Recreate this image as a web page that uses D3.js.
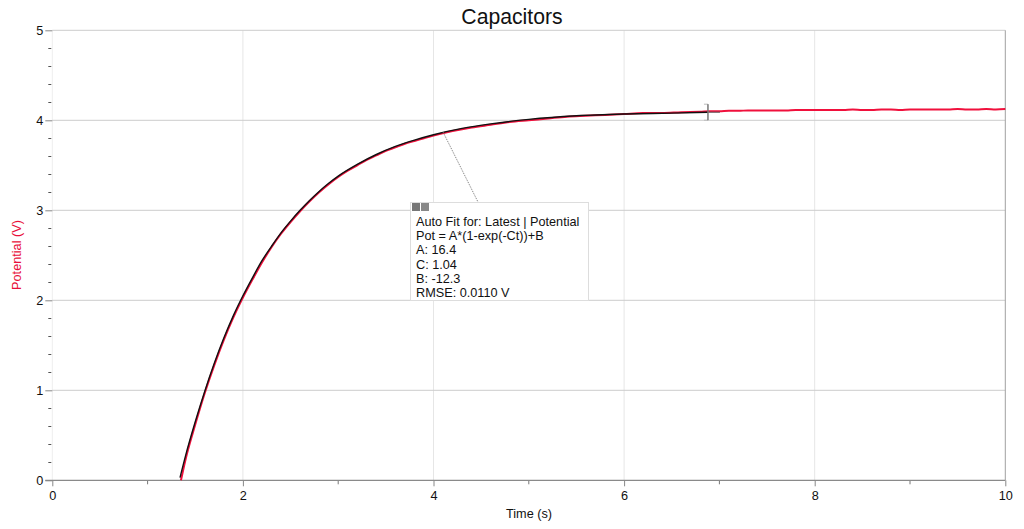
<!DOCTYPE html>
<html><head><meta charset="utf-8">
<script src="https://cdn.jsdelivr.net/npm/d3@7"></script>
<style>body{margin:0;background:#fff}svg{display:block;font-family:"Liberation Sans",Arial,sans-serif}</style>
</head><body><svg id="c" width="1024" height="529"></svg>
<script>
// Measured data (red)
const dataT = [1.35,1.4,1.5,1.6,1.7,1.8,1.9,2.0,2.1,2.2,2.3,2.4,2.5,2.6,2.7,2.8,2.9,3.0,3.1,3.2,3.3,3.4,3.5,3.6,3.7,3.8,3.9,4.0,4.2,4.4,4.6,4.8,5.0,5.2,5.4,5.6,5.8,6.0,6.2,6.4,6.6,6.8,6.9,7.0,7.1,7.2,7.3,7.4,7.5,7.6,7.7,7.8,7.9,8.0,8.1,8.2,8.3,8.4,8.5,8.6,8.7,8.8,8.9,9.0,9.1,9.2,9.3,9.4,9.5,9.6,9.7,9.8,9.9,10.0];
const dataV = [0.0,0.24,0.62,0.97,1.28,1.56,1.81,2.03,2.23,2.42,2.59,2.74,2.87,2.99,3.10,3.20,3.29,3.37,3.44,3.50,3.56,3.61,3.66,3.70,3.74,3.77,3.80,3.83,3.88,3.92,3.95,3.98,4.00,4.02,4.04,4.05,4.06,4.07,4.08,4.08,4.09,4.095,4.10,4.10,4.105,4.105,4.11,4.11,4.11,4.11,4.11,4.115,4.115,4.115,4.115,4.115,4.115,4.12,4.115,4.115,4.12,4.12,4.115,4.12,4.12,4.12,4.12,4.12,4.125,4.12,4.12,4.125,4.12,4.125];
// Fit curve (black)
const fitT = [1.34,1.4,1.5,1.6,1.7,1.8,1.9,2.0,2.1,2.2,2.3,2.4,2.5,2.6,2.7,2.8,2.9,3.0,3.2,3.4,3.6,3.8,4.0,4.3,4.6,5.0,5.5,6.0,6.5,6.88];
const fitV = [0.03,0.28,0.65,0.99,1.30,1.58,1.83,2.05,2.25,2.44,2.60,2.75,2.88,3.00,3.11,3.21,3.30,3.38,3.51,3.62,3.71,3.78,3.84,3.91,3.96,4.01,4.05,4.07,4.08,4.09];
const xTicks = [0,2,4,6,8,10];
const xMinor = [1,3,5,7,9];
const yTicks = [0,1,2,3,4,5];
const annoLines = ["Auto Fit for: Latest | Potential","Pot = A*(1-exp(-Ct))+B","A: 16.4","C: 1.04","B: -12.3","RMSE: 0.0110 V"];

const svg = d3.select("#c");
const L=52.3,R=1005.3,T=30.3,B=480.3;
const FS=12.7;
const x = d3.scaleLinear().domain([0,10]).range([L,R]);
const y = d3.scaleLinear().domain([0,5]).range([B,T]);

// grid
svg.append("g").selectAll("line").data(xTicks.filter(d=>d>0&&d<10)).join("line")
  .attr("x1",d=>x(d)).attr("x2",d=>x(d)).attr("y1",T).attr("y2",B)
  .attr("stroke","#e6e6e6").attr("stroke-width",1);
svg.append("line").attr("x1",L).attr("x2",L).attr("y1",T).attr("y2",B).attr("stroke","#eeeeee");
svg.append("g").selectAll("line").data(yTicks.filter(d=>d>0)).join("line")
  .attr("x1",L).attr("x2",R).attr("y1",d=>y(d)).attr("y2",d=>y(d))
  .attr("stroke","#cccccc").attr("stroke-width",1);
// right border
svg.append("line").attr("x1",R).attr("x2",R).attr("y1",T).attr("y2",B).attr("stroke","#a0a0a0");

// x axis
const xAx = svg.append("g").attr("transform",`translate(0,${B})`)
  .call(d3.axisBottom(x).tickValues(xTicks).tickSize(6).tickPadding(5).tickFormat(d3.format("d")));
xAx.select(".domain").remove();
xAx.selectAll("line").attr("stroke","#888");
xAx.selectAll("text").attr("font-size",FS).attr("fill","#111").attr("font-family","Liberation Sans, Arial, sans-serif");
svg.append("g").selectAll("line").data(xMinor).join("line")
  .attr("x1",d=>x(d)).attr("x2",d=>x(d)).attr("y1",B).attr("y2",B+4).attr("stroke","#777");
svg.append("line").attr("x1",L-7).attr("x2",R).attr("y1",B).attr("y2",B).attr("stroke","#8a8a8a").attr("stroke-width",1.2);

// y axis
const yAx = svg.append("g").attr("transform",`translate(${L},0)`)
  .call(d3.axisLeft(y).tickValues(yTicks).tickSize(7).tickPadding(2).tickFormat(d3.format("d")));
yAx.select(".domain").remove();
yAx.selectAll("line").attr("stroke","#888");
yAx.selectAll("text").attr("font-size",FS).attr("fill","#111").attr("font-family","Liberation Sans, Arial, sans-serif");
const yMinor = d3.range(0,5,0.2).filter(v=>Math.abs(v-Math.round(v))>0.01);
svg.append("g").selectAll("line").data(yMinor).join("line")
  .attr("x1",L-4).attr("x2",L-1).attr("y1",d=>Math.round(y(d))+0.5).attr("y2",d=>Math.round(y(d))+0.5).attr("stroke","#555");

// data line
const pts = dataT.map((t,i)=>[t,dataV[i]]);
const line = d3.line().x(d=>x(d[0])).y(d=>y(d[1])).curve(d3.curveMonotoneX);
svg.append("path").attr("d",line(pts)).attr("fill","none").attr("stroke","#f0103c").attr("stroke-width",2);
// fit line
const fpts = fitT.map((t,i)=>[t,fitV[i]]);
svg.append("path").attr("d",line(fpts)).attr("fill","none").attr("stroke","#111").attr("stroke-width",1.4);
const fx = x(fitT[fitT.length-1]), fy = y(fitV[fitV.length-1]);
svg.append("line").attr("x1",fx).attr("x2",fx+12).attr("y1",fy).attr("y2",fy).attr("stroke","#555");
// bracket marker at fit end
svg.append("path").attr("d",`M${fx-4},${fy-8}H${fx}V${fy+8}H${fx-4}`).attr("fill","none").attr("stroke","#bbb");
svg.append("line").attr("x1",fx).attr("x2",fx).attr("y1",fy-8).attr("y2",fy+8).attr("stroke","#555");

// annotation
const ax=410, ay=202, aw=178, ah=98;
svg.append("line").attr("x1",x(4.1)).attr("y1",y(3.87)).attr("x2",ax+68).attr("y2",ay)
  .attr("stroke","#777").attr("stroke-dasharray","1,1");
svg.append("rect").attr("x",ax+0.5).attr("y",ay+0.5).attr("width",aw).attr("height",ah)
  .attr("fill","#fff").attr("stroke","#dddddd");
svg.append("rect").attr("x",ax+2).attr("y",ay+1).attr("width",8).attr("height",8).attr("fill","#777");
svg.append("rect").attr("x",ax+11).attr("y",ay+1).attr("width",8).attr("height",8).attr("fill","#888");
svg.append("g").selectAll("text").data(annoLines).join("text")
  .attr("x",ax+6).attr("y",(d,i)=>ay+24+i*14.2).attr("font-size",FS).attr("fill","#111").text(d=>d);

// title and labels
svg.append("text").attr("x",512).attr("y",24).attr("text-anchor","middle").attr("font-size",21.2).attr("fill","#111").text("Capacitors");
svg.append("text").attr("x",529).attr("y",518).attr("text-anchor","middle").attr("font-size",FS).attr("fill","#111").text("Time (s)");
svg.append("text").attr("transform",`translate(21,255) rotate(-90)`).attr("text-anchor","middle").attr("font-size",FS).attr("fill","#e8103a").text("Potential (V)");
</script></body></html>
